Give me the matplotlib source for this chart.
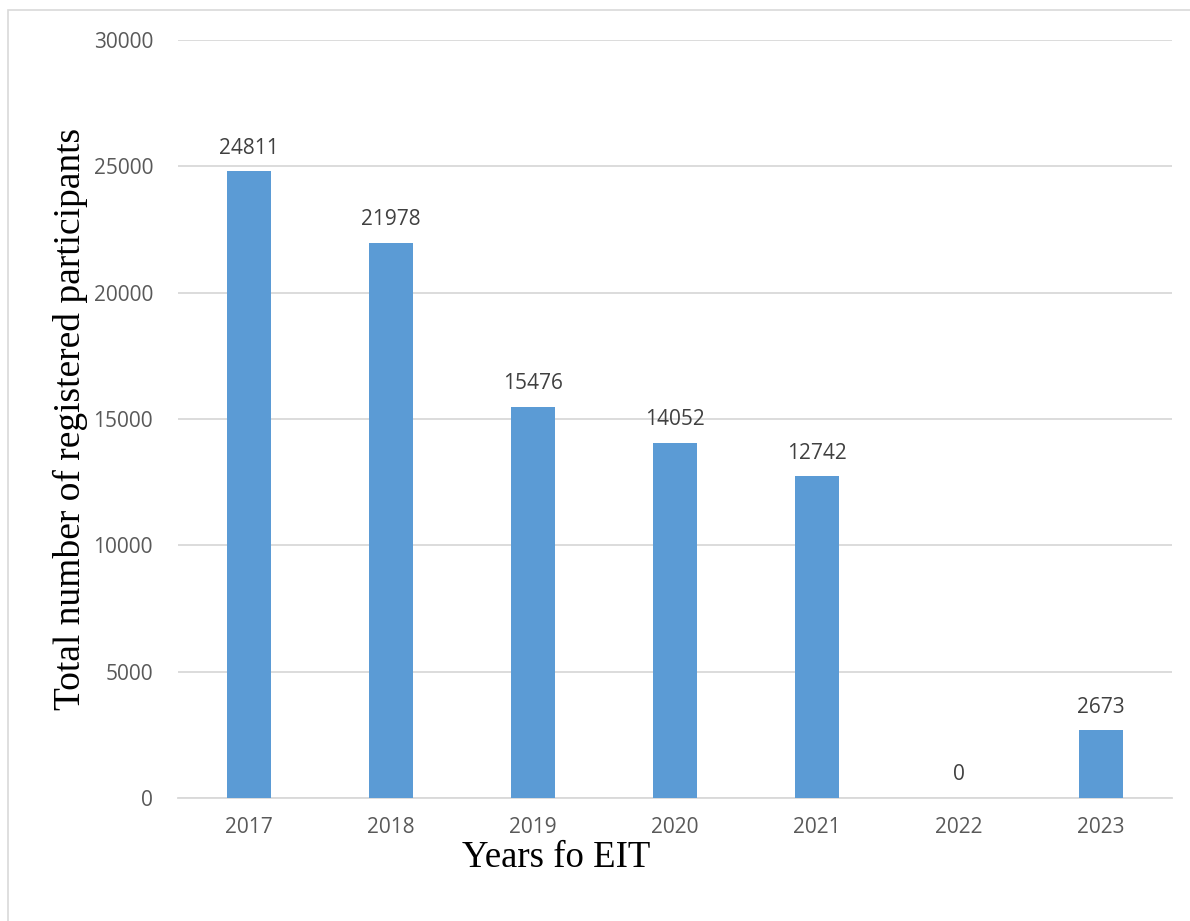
import matplotlib.pyplot as plt
from matplotlib.patches import Rectangle

years = ["2017", "2018", "2019", "2020", "2021", "2022", "2023"]
participants = [24811, 21978, 15476, 14052, 12742, 0, 2673]
y_ticks = [0, 5000, 10000, 15000, 20000, 25000, 30000]

fig = plt.figure(figsize=(11.9, 9.21), dpi=100)
ax = fig.add_axes([0.1496, 0.1336, 0.8353, 0.823])

# light frame around the chart area, like the office export
fig.patches.append(Rectangle((8 / 1190, -0.05), 1.2, 1 - 10 / 921 + 0.05,
                             transform=fig.transFigure, fill=False,
                             edgecolor="#D9D9D9", linewidth=1.2))

x = range(len(years))
bars = ax.bar(x, participants, width=0.31, color="#5B9BD5", zorder=3)
for xi, v in zip(x, participants):
    ax.annotate(str(v), (xi, v), xytext=(0, 9), textcoords="offset points",
                ha="center", va="bottom", fontsize=15, color="#404040",
                family="Open Sans")

ax.set_xlim(-0.5, len(years) - 0.5)
ax.set_ylim(0, 30000)
ax.set_yticks(y_ticks)
ax.set_yticklabels([str(t) for t in y_ticks])
ax.set_xticks(list(x))
ax.set_xticklabels(years)
ax.grid(axis="y", color="#D9D9D9", linewidth=1.3, zorder=0)
ax.tick_params(length=0, labelsize=15, labelcolor="#595959", pad=14)
ax.tick_params(axis="y", pad=18)
for lab in ax.get_xticklabels() + ax.get_yticklabels():
    lab.set_family("Open Sans")
for s in ["top", "right", "left"]:
    ax.spines[s].set_visible(False)
ax.spines["bottom"].set_color("#D9D9D9")
ax.spines["bottom"].set_linewidth(1.3)

# x title sits left of centre in the original
fig.text(556 / 1190, 1 - 858 / 921, "Years fo EIT", fontsize=26.5,
         family="Liberation Serif", color="black", ha="center", va="center")
ax.set_ylabel("Total number of registered participants", fontsize=27,
              family="Liberation Serif", color="black", labelpad=4)

fig.savefig("out.png", dpi=100, facecolor="white")
